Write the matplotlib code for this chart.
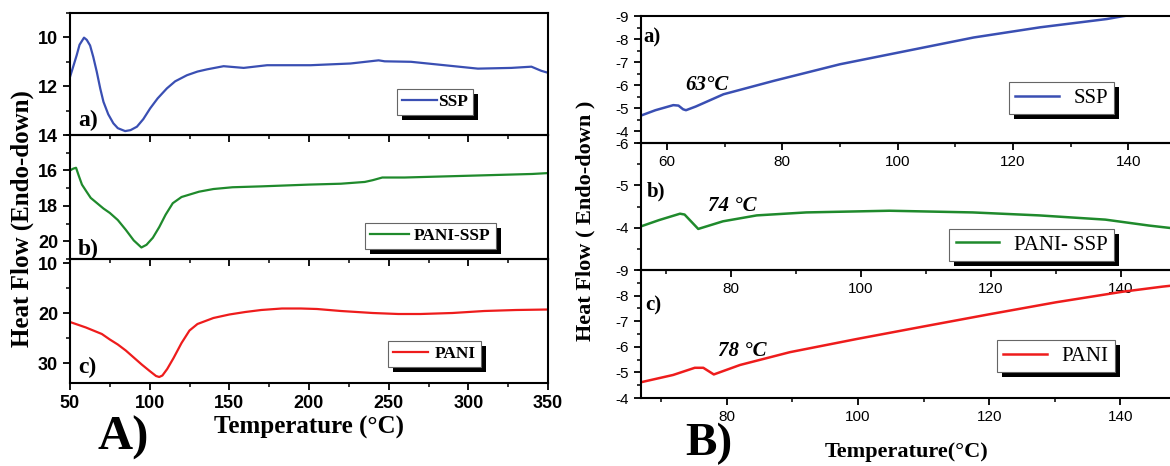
import numpy as np
import matplotlib.pyplot as plt
from matplotlib.patches import Rectangle
from matplotlib.ticker import MultipleLocator

plt.rcParams['axes.unicode_minus'] = False

W, H = 1170, 466

# ---- panel A : DSC curves 50-350 C ----
tA_ssp = [50, 52, 54.2, 56, 58.8, 60.5, 62.6, 64.6, 66.8, 69, 71, 74, 77.2, 80, 84.6, 88, 92, 96,
          100.3, 105, 110.8, 116, 123.4, 130, 136, 146.4, 159, 173.7, 201, 226, 243.7, 247.5,
          264, 285, 306, 327, 339.6, 345.8, 350]
ssp_A = [11.62, 11.2, 10.73, 10.3, 10.01, 10.1, 10.33, 10.8, 11.41, 12.1, 12.64, 13.15, 13.52, 13.72,
         13.84, 13.8, 13.66, 13.35, 12.91, 12.5, 12.09, 11.8, 11.55, 11.4, 11.31, 11.18, 11.25, 11.14,
         11.14, 11.07, 10.94, 10.98, 11.0, 11.14, 11.28, 11.25, 11.2, 11.37, 11.45]

tA_pani_ssp = [50, 52, 53.8, 55.5, 57.5, 60.4, 63, 67, 71, 75, 80, 85, 90, 94.8, 98, 102, 106, 110,
               114.5, 120, 131, 140, 152, 170, 200, 220, 235, 240, 246, 260, 280, 300, 320, 340, 350]
pani_ssp_A = [16.0, 15.9, 15.85, 16.3, 16.8, 17.2, 17.55, 17.85, 18.15, 18.4, 18.8, 19.35, 19.95, 20.35,
              20.2, 19.8, 19.2, 18.5, 17.85, 17.5, 17.2, 17.05, 16.95, 16.9, 16.8, 16.75, 16.65, 16.55,
              16.4, 16.4, 16.35, 16.3, 16.25, 16.2, 16.15]

tA_pani = [50, 60, 70, 75, 80, 85, 90, 95, 100, 104, 106, 108, 111, 115, 120, 125, 130, 140, 150, 160,
           170, 183, 195, 205, 220, 240, 256, 270, 290, 310, 330, 350]
pani_A = [21.8, 22.9, 24.2, 25.3, 26.3, 27.5, 28.9, 30.3, 31.6, 32.6, 32.8, 32.5, 31.2, 29.0, 26.0, 23.5,
          22.2, 21.0, 20.3, 19.8, 19.4, 19.1, 19.1, 19.2, 19.6, 20.0, 20.2, 20.2, 20.0, 19.6, 19.4, 19.3]

# ---- panel B : zoom on the glass transition ----
tB_ssp = [55.3, 58, 61.1, 62.0, 62.8, 63.3, 65, 69.8, 78.5, 90.0, 101.6, 113.2, 124.7, 136.3, 139, 145, 150]
ssp_B = [-4.67, -4.92, -5.14, -5.12, -4.96, -4.92, -5.08, -5.61, -6.19, -6.91, -7.49, -8.07, -8.51,
         -8.87, -8.99, -9.2, -9.4]

tB_pani_ssp = [66.0, 69, 72.2, 72.9, 75.0, 78.8, 84, 91.6, 104.4, 117.2, 127.4, 137.6, 144.3, 150]
pani_ssp_B = [-4.02, -4.18, -4.33, -4.31, -3.97, -4.15, -4.29, -4.36, -4.40, -4.36, -4.29, -4.19, -4.05, -3.95]

tB_pani = [66.8, 71.8, 75.1, 76.4, 78.0, 82.0, 89.6, 99.7, 109.9, 120, 130.2, 140.3, 146.4, 150]
pani_B = [-4.61, -4.9, -5.18, -5.18, -4.92, -5.29, -5.79, -6.30, -6.79, -7.27, -7.74, -8.15, -8.35, -8.45]

blue = '#3a4fb3'
green = '#1f8a2c'
red = '#ee1c1c'

serif = 'Liberation Serif'
sans = 'Liberation Sans'

fig = plt.figure(figsize=(W / 100, H / 100), dpi=100)


def px_axes(l, t, r, b):
    ax = fig.add_axes([l / W, 1 - b / H, (r - l) / W, (b - t) / H])
    ax.patch.set_visible(False)  # so ticks/labels of the panel above stay visible
    return ax


def style(ax):
    for s in ax.spines.values():
        s.set_linewidth(1.5)
    ax.tick_params(which='major', direction='out', length=5, width=1.3)
    ax.tick_params(which='minor', direction='out', length=3, width=1.1)


legends = []


def add_legend(ax, line, label, cx, cy, weight, size, hl, htp):
    leg = ax.legend([line], [label], loc='center', bbox_to_anchor=(cx, cy), fancybox=False,
                    framealpha=1, edgecolor='#666666', handlelength=hl, handletextpad=htp,
                    borderpad=0.3, borderaxespad=0,
                    prop={'family': serif, 'weight': weight, 'size': size})
    leg.get_frame().set_linewidth(0.8)
    legends.append((ax, leg))


# ---------------- panel A ----------------
aA = px_axes(70, 13, 548, 135)
bA = px_axes(70, 135, 548, 259)
cA = px_axes(70, 259, 548, 383)

xt = [50, 100, 150, 200, 250, 300, 350]
setupA = [
    (aA, tA_ssp, ssp_A, blue, 'SSP', (14, 9), [10, 12, 14], 1, 'a)', 0.074, (0.764, 0.27), 2.0, 0.05),
    (bA, tA_pani_ssp, pani_ssp_A, green, 'PANI-SSP', (21, 14), [16, 18, 20], 1, 'b)', 0.032, (0.754, 0.185), 2.2, 0.3),
    (cA, tA_pani, pani_A, red, 'PANI', (34, 9.2), [10, 20, 30], 5, 'c)', 0.08, (0.762, 0.234), 2.0, 0.4),
]
for ax, t, v, col, lab, yl, yt, ymin, tag, tagy, lpos, hl, htp in setupA:
    ln, = ax.plot(t, v, color=col, lw=1.6)
    ax.set_xlim(50, 350)
    ax.set_ylim(*yl)
    style(ax)
    ax.set_xticks(xt, [str(x) for x in xt], fontweight='bold', fontsize=13, family=sans)
    ax.xaxis.set_minor_locator(MultipleLocator(25))
    ax.set_yticks(yt, [str(y) for y in yt], fontweight='bold', fontsize=13, family=sans)
    ax.yaxis.set_minor_locator(MultipleLocator(ymin))
    ax.text(0.017, tagy, tag, transform=ax.transAxes, family=serif, fontweight='bold', fontsize=17,
            va='baseline')
    add_legend(ax, ln, lab, lpos[0], lpos[1], 'bold', 12.5, hl, htp)
    if ax is not cA:
        ax.tick_params(labelbottom=False)

fig.text(22 / W, 1 - 219 / H, 'Heat Flow (Endo-down)', rotation=90, ha='center', va='center',
         family=serif, fontweight='bold', fontsize=18)
fig.text(309 / W, 1 - 427 / H, 'Temperature (°C)', ha='center', va='center',
         family=serif, fontweight='bold', fontsize=18)
fig.text(97 / W, 1 - 450 / H, 'A)', ha='left', va='baseline', family=serif, fontweight='bold', fontsize=35)

# ---------------- panel B ----------------
aB = px_axes(641, 16, 1186, 143)
bB = px_axes(641, 143, 1186, 270)
cB = px_axes(641, 270, 1186, 398)

setupB = [
    (aB, tB_ssp, ssp_B, blue, 'SSP', (55.5, 150), (-3.5, -9), [-9, -8, -7, -6, -5, -4], 'a)', (0.004, 0.795),
     '63°C', (0.081, 0.417), (0.772, 0.354)),
    (bB, tB_pani_ssp, pani_ssp_B, green, 'PANI- SSP', (66.2, 150), (-3, -6), [-6, -5, -4], 'b)', (0.011, 0.575),
     '74 °C', (0.123, 0.465), (0.717, 0.197)),
    (cB, tB_pani, pani_B, red, 'PANI', (66.9, 150), (-4, -9), [-9, -8, -7, -6, -5, -4], 'c)', (0.007, 0.6875),
     '78 °C', (0.141, 0.328), (0.761, 0.328)),
]
for ax, t, v, col, lab, xl, yl, yt, tag, tagpos, ann, annpos, lpos in setupB:
    ln, = ax.plot(t, v, color=col, lw=1.8)
    ax.set_xlim(*xl)
    ax.set_ylim(*yl)
    style(ax)
    ax.xaxis.set_major_locator(MultipleLocator(20))
    ax.xaxis.set_minor_locator(MultipleLocator(10))
    ax.set_yticks(yt, [str(y) for y in yt], fontsize=11, family=sans)
    ax.yaxis.set_minor_locator(MultipleLocator(0.5))
    ax.tick_params(axis='x', labelsize=11, labelfontfamily=sans)
    ax.text(tagpos[0], tagpos[1], tag, transform=ax.transAxes, family=serif, fontweight='bold',
            fontsize=15, va='baseline')
    ax.text(annpos[0], annpos[1], ann, transform=ax.transAxes, family=serif, fontweight='bold',
            style='italic', fontsize=15, va='baseline')
    add_legend(ax, ln, lab, lpos[0], lpos[1], 'normal', 15, 2.1, 0.7)

fig.text(585 / W, 1 - 221 / H, 'Heat Flow ( Endo-down )', rotation=90, ha='center', va='center',
         family=serif, fontweight='bold', fontsize=16)
fig.text(907 / W, 1 - 452 / H, 'Temperature(°C)', ha='center', va='center',
         family=serif, fontweight='bold', fontsize=16)
fig.text(685 / W, 1 - 455 / H, 'B)', ha='left', va='baseline', family=serif, fontweight='bold', fontsize=34)

# black drop shadow behind each legend box
fig.canvas.draw()
r = fig.canvas.get_renderer()
for ax, leg in legends:
    bb = leg.get_window_extent(r).transformed(ax.transAxes.inverted())
    ax_bb = ax.get_window_extent(r)
    dx = 5 / ax_bb.width
    dy = 5 / ax_bb.height
    ax.add_patch(Rectangle((bb.x0 + dx, bb.y0 - dy), bb.width, bb.height, transform=ax.transAxes,
                           facecolor='black', edgecolor='none', zorder=4.9, clip_on=False))

fig.savefig('out.png', dpi=100)
